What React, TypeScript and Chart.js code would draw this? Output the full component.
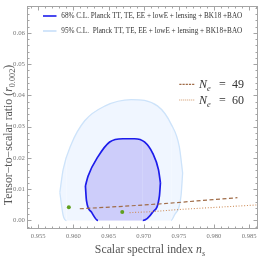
import React, { useEffect, useRef } from 'react';
import { Chart, registerables } from 'chart.js';
Chart.register(...registerables);

// ---- axis ranges and ticks ----
const X_MIN = 0.9534;
const X_MAX = 0.98626;
const Y_MIN = -0.00272;
const Y_MAX = 0.06853;
const X_TICKS = [0.955, 0.96, 0.965, 0.97, 0.975, 0.98, 0.985];
const X_TICK_LABELS = ['0.955', '0.960', '0.965', '0.970', '0.975', '0.980', '0.985'];
const Y_TICKS = [0, 0.01, 0.02, 0.03, 0.04, 0.05, 0.06];
const Y_TICK_LABELS = ['0.00', '0.01', '0.02', '0.03', '0.04', '0.05', '0.06'];
const X_MINOR_STEP = 0.001;
const Y_MINOR_STEP = 0.002;

// ---- 95% C.L. contour (upper / lower boundary) ----
const C95_UPPER_NS = [0.95807, 0.95854, 0.95973, 0.96161, 0.96445, 0.96823, 0.972, 0.9739, 0.97507, 0.97554];
const C95_UPPER_R = [0.00894, 0.01625, 0.02456, 0.03188, 0.03656, 0.03863, 0.03656, 0.03081, 0.02353, 0.01519];
const C95_LOWER_NS = [0.95807, 0.95854, 0.95902, 0.9739, 0.97436, 0.97531, 0.97554];
const C95_LOWER_R = [0.00894, 0.00166, 0, 0, 0.00166, 0.0079, 0.01519];

// ---- 68% C.L. contour ----
const C68_UPPER_NS = [0.96171, 0.96208, 0.9635, 0.96516, 0.96704, 0.9687, 0.97011, 0.97129, 0.9721, 0.97238];
const C68_UPPER_R = [0.01103, 0.01416, 0.0204, 0.0251, 0.02613, 0.02613, 0.0251, 0.02144, 0.01625, 0.01206];
const C68_LOWER_NS = [0.96171, 0.96186, 0.96256, 0.9635, 0.96987, 0.97129, 0.97224, 0.97238];
const C68_LOWER_R = [0.01103, 0.00634, 0.00269, 0, 0, 0.00269, 0.0079, 0.01206];

// ---- model predictions ----
const NE_VALUES = [49, 60];
const NE49_NS = [0.96091, 0.96813, 0.97285, 0.97758, 0.98333];
const NE49_R = [0.00375, 0.00469, 0.0054, 0.00625, 0.00728];
const NE60_NS = [0.96799, 0.97096, 0.97521, 0.97993, 0.9863];
const NE60_R = [0.0025, 0.00281, 0.00353, 0.00416, 0.005];
const POINT_NS = [0.95935, 0.96695];
const POINT_R = [0.00425, 0.0027];

const LABEL_68 = '68% C.L. Planck TT, TE, EE + lowE + lensing + BK18 +BAO';
const LABEL_95 = '95% C.L.  Planck TT, TE, EE + lowE + lensing + BK18+BAO';

const SERIF = '"Liberation Serif", "Times New Roman", serif';
const C68_LINE = 'rgb(28,28,235)';
const C68_FILL = 'rgb(205,205,250)';
const C95_LINE = 'rgb(205,227,250)';
const C95_FILL = 'rgb(240,246,255)';
const NE49_COLOR = 'rgb(160,108,72)';
const NE60_COLOR = 'rgb(205,140,88)';
const POINT_COLOR = 'rgb(96,160,30)';
const FRAME_COLOR = '#a4a4a4';
const TICK_TEXT = '#777777';
const TITLE_TEXT = '#555555';
const LEGEND_TEXT = '#333333';

const zip = (xs: number[], ys: number[]) => xs.map((x, i) => ({ x, y: ys[i] }));

type Part = { t: string; italic?: boolean; sub?: boolean };
function richWidth(ctx: CanvasRenderingContext2D, parts: Part[], size: number) {
  let w = 0;
  for (const p of parts) {
    ctx.font = `${p.italic ? 'italic ' : ''}${p.sub ? size * 0.7 : size}px ${SERIF}`;
    w += ctx.measureText(p.t).width;
  }
  return w;
}
function drawRich(ctx: CanvasRenderingContext2D, parts: Part[], x: number, y: number, size: number) {
  let cx = x;
  ctx.textAlign = 'left';
  ctx.textBaseline = 'alphabetic';
  for (const p of parts) {
    ctx.font = `${p.italic ? 'italic ' : ''}${p.sub ? size * 0.7 : size}px ${SERIF}`;
    ctx.fillText(p.t, cx, p.sub ? y + size * 0.25 : y);
    cx += ctx.measureText(p.t).width;
  }
}

const framePlugin = {
  id: 'frameTicks',
  afterDatasetsDraw(chart: any) {
    const { ctx, chartArea } = chart;
    const xs = chart.scales.x;
    const ys = chart.scales.y;
    const L = Math.round(chartArea.left) + 0.5;
    const R = Math.round(chartArea.right) - 0.5;
    const T = Math.round(chartArea.top) + 0.5;
    const B = Math.round(chartArea.bottom) - 0.5;
    ctx.save();
    ctx.strokeStyle = FRAME_COLOR;
    ctx.lineWidth = 1;
    ctx.strokeRect(L, T, R - L, B - T);
    ctx.beginPath();
    const kx0 = Math.ceil(X_MIN / X_MINOR_STEP - 1e-6);
    const kx1 = Math.floor(X_MAX / X_MINOR_STEP + 1e-6);
    for (let k = kx0; k <= kx1; k++) {
      const v = k * X_MINOR_STEP;
      const major = X_TICKS.some((t) => Math.abs(t - v) < 1e-7);
      const len = major ? 4 : 2;
      const px = Math.round(xs.getPixelForValue(v)) + 0.5;
      ctx.moveTo(px, B); ctx.lineTo(px, B - len);
      ctx.moveTo(px, T); ctx.lineTo(px, T + len);
    }
    const ky0 = Math.ceil(Y_MIN / Y_MINOR_STEP - 1e-6);
    const ky1 = Math.floor(Y_MAX / Y_MINOR_STEP + 1e-6);
    for (let k = ky0; k <= ky1; k++) {
      const v = k * Y_MINOR_STEP;
      const major = Y_TICKS.some((t) => Math.abs(t - v) < 1e-7);
      const len = major ? 4 : 2;
      const py = Math.round(ys.getPixelForValue(v)) + 0.5;
      ctx.moveTo(L, py); ctx.lineTo(L + len, py);
      ctx.moveTo(R, py); ctx.lineTo(R - len, py);
    }
    ctx.stroke();
    ctx.restore();
  },
};

const textPlugin = {
  id: 'texts',
  afterDraw(chart: any) {
    const { ctx } = chart;
    const ds = chart.data.datasets;
    ctx.save();
    // axis titles
    ctx.fillStyle = TITLE_TEXT;
    const xt: Part[] = [{ t: 'Scalar spectral index ' }, { t: 'n', italic: true }, { t: 's', italic: true, sub: true }];
    const xw = richWidth(ctx, xt, 11.8);
    drawRich(ctx, xt, 150 - xw / 2, 253, 11.8);
    const yt: Part[] = [
      { t: 'Tensor\u2212to\u2212scalar ratio (' },
      { t: 'r', italic: true },
      { t: '0.002', sub: true },
      { t: ')' },
    ];
    const yw = richWidth(ctx, yt, 11.8);
    ctx.save();
    ctx.translate(12, 135);
    ctx.rotate(-Math.PI / 2);
    drawRich(ctx, yt, -yw / 2, 0, 11.8);
    ctx.restore();

    // contour legend
    const rows = [
      { y: 16, color: ds[2].borderColor, width: 1.6, label: ds[2].label },
      { y: 31, color: ds[0].borderColor, width: 1.8, label: ds[0].label },
    ];
    for (const r of rows) {
      ctx.strokeStyle = r.color;
      ctx.lineWidth = r.width;
      ctx.setLineDash([]);
      ctx.beginPath();
      ctx.moveTo(43, r.y);
      ctx.lineTo(56.5, r.y);
      ctx.stroke();
      ctx.fillStyle = LEGEND_TEXT;
      ctx.font = `7.2px ${SERIF}`;
      ctx.textAlign = 'left';
      ctx.textBaseline = 'middle';
      ctx.fillText(r.label, 61.3, r.y + 0.5);
    }

    // N_e legend
    const neRows = [
      { y: 84.3, ds: ds[4], dash: [2.2, 1], value: NE_VALUES[0] },
      { y: 100, ds: ds[5], dash: [0.9, 1.1], value: NE_VALUES[1] },
    ];
    for (const r of neRows) {
      ctx.strokeStyle = r.ds.borderColor;
      ctx.lineWidth = r.ds.borderWidth;
      ctx.setLineDash(r.dash);
      ctx.beginPath();
      ctx.moveTo(179.3, r.y);
      ctx.lineTo(194.3, r.y);
      ctx.stroke();
      ctx.setLineDash([]);
      ctx.fillStyle = LEGEND_TEXT;
      drawRich(ctx, [{ t: 'N', italic: true }, { t: 'e', italic: true, sub: true }], 199, r.y + 4, 12);
      ctx.font = `12px ${SERIF}`;
      ctx.fillText('=', 219, r.y + 4);
      ctx.fillText(String(r.value), 232, r.y + 4);
    }
    ctx.restore();
  },
};

export default function App() {
  const ref = useRef<HTMLCanvasElement | null>(null);
  useEffect(() => {
    if (!ref.current) return;
    const flatBottom = (color: string) => (c: any) =>
      c.p0.parsed.y === 0 && c.p1.parsed.y === 0 ? 'rgba(0,0,0,0)' : color;
    const chart = new Chart(ref.current, {
      type: 'scatter',
      data: {
        datasets: [
          {
            label: LABEL_95,
            data: zip(C95_UPPER_NS, C95_UPPER_R),
            showLine: true,
            fill: '+1',
            backgroundColor: C95_FILL,
            borderColor: C95_LINE,
            borderWidth: 1.3,
            pointRadius: 0,
            cubicInterpolationMode: 'monotone',
            order: 6,
          },
          {
            label: '95 lower',
            data: zip(C95_LOWER_NS, C95_LOWER_R),
            showLine: true,
            fill: false,
            borderColor: C95_LINE,
            borderWidth: 1.3,
            pointRadius: 0,
            cubicInterpolationMode: 'monotone',
            segment: { borderColor: flatBottom(C95_LINE) },
            order: 5,
          },
          {
            label: LABEL_68,
            data: zip(C68_UPPER_NS, C68_UPPER_R),
            showLine: true,
            fill: '+1',
            backgroundColor: C68_FILL,
            borderColor: C68_LINE,
            borderWidth: 1.7,
            pointRadius: 0,
            cubicInterpolationMode: 'monotone',
            order: 4,
          },
          {
            label: '68 lower',
            data: zip(C68_LOWER_NS, C68_LOWER_R),
            showLine: true,
            fill: false,
            borderColor: C68_LINE,
            borderWidth: 1.7,
            pointRadius: 0,
            cubicInterpolationMode: 'monotone',
            segment: { borderColor: flatBottom(C68_LINE) },
            order: 3,
          },
          {
            label: `N_e = ${NE_VALUES[0]}`,
            data: zip(NE49_NS, NE49_R),
            showLine: true,
            fill: false,
            borderColor: NE49_COLOR,
            borderWidth: 1.2,
            borderDash: [4, 2.5],
            pointRadius: 0,
            cubicInterpolationMode: 'monotone',
            order: 2,
          },
          {
            label: `N_e = ${NE_VALUES[1]}`,
            data: zip(NE60_NS, NE60_R),
            showLine: true,
            fill: false,
            borderColor: NE60_COLOR,
            borderWidth: 1.1,
            borderDash: [1, 1.8],
            pointRadius: 0,
            cubicInterpolationMode: 'monotone',
            order: 2,
          },
          {
            label: 'points',
            data: zip(POINT_NS, POINT_R),
            showLine: false,
            backgroundColor: POINT_COLOR,
            borderWidth: 0,
            pointRadius: 2,
            order: 1,
          },
        ],
      },
      options: {
        responsive: false,
        animation: false,
        devicePixelRatio: 1,
        layout: { padding: { top: 1, right: 3, left: 0, bottom: 0 } },
        plugins: { legend: { display: false }, tooltip: { enabled: false } },
        scales: {
          x: {
            type: 'linear',
            min: X_MIN,
            max: X_MAX,
            afterBuildTicks: (s: any) => { s.ticks = X_TICKS.map((v) => ({ value: v })); },
            afterFit: (s: any) => { s.height = 28; },
            grid: { display: false, drawTicks: false },
            border: { display: false },
            ticks: {
              autoSkip: false,
              maxRotation: 0,
              padding: 3,
              color: TICK_TEXT,
              font: { family: SERIF, size: 6.6 },
              callback: (v: any) => {
                const i = X_TICKS.findIndex((t) => Math.abs(t - v) < 1e-7);
                return i >= 0 ? X_TICK_LABELS[i] : '';
              },
            },
          },
          y: {
            type: 'linear',
            min: Y_MIN,
            max: Y_MAX,
            afterBuildTicks: (s: any) => { s.ticks = Y_TICKS.map((v) => ({ value: v })); },
            afterFit: (s: any) => { s.width = 27; },
            grid: { display: false, drawTicks: false },
            border: { display: false },
            ticks: {
              autoSkip: false,
              padding: 2,
              color: TICK_TEXT,
              font: { family: SERIF, size: 6.8 },
              callback: (v: any) => {
                const i = Y_TICKS.findIndex((t) => Math.abs(t - v) < 1e-7);
                return i >= 0 ? Y_TICK_LABELS[i] : '';
              },
            },
          },
        },
      },
      plugins: [framePlugin, textPlugin],
    } as any);
    return () => chart.destroy();
  }, []);
  return (
    <div style={{ position: 'fixed', left: 0, top: 0, width: 262, height: 257, background: '#ffffff' }}>
      <canvas ref={ref} width={262} height={257} style={{ display: 'block', width: 262, height: 257 }} />
    </div>
  );
}
